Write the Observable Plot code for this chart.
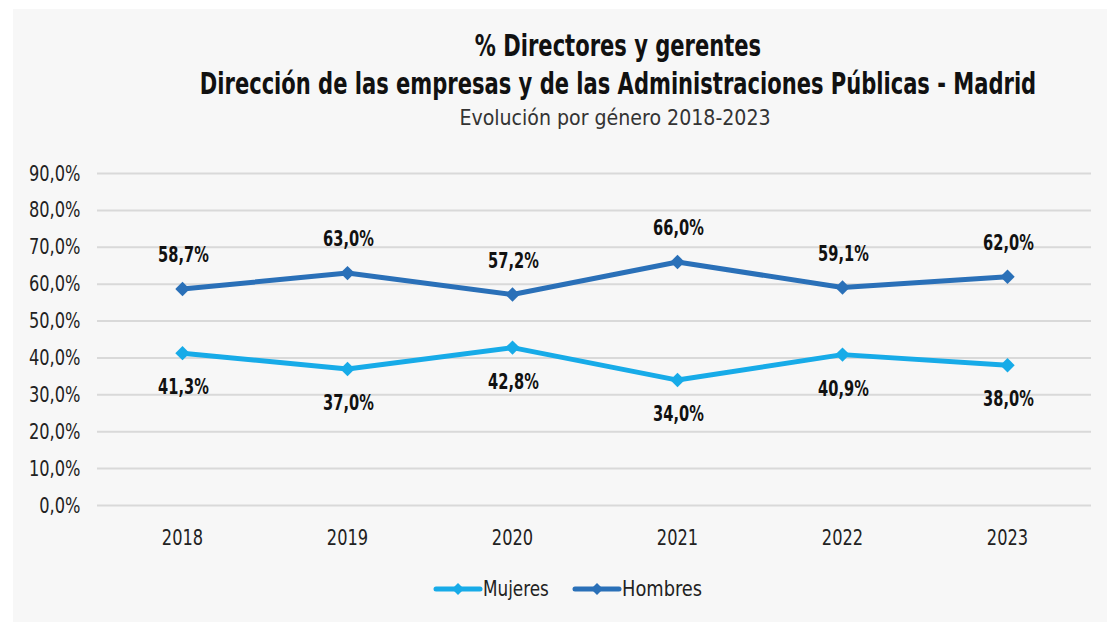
<!DOCTYPE html>
<html>
<head>
<meta charset="utf-8">
<script src="https://cdn.jsdelivr.net/npm/d3@7"></script>
<script src="https://cdn.jsdelivr.net/npm/@observablehq/plot@0.6"></script>
<style>
  html, body { margin: 0; padding: 0; background: #ffffff; width: 1107px; height: 622px; overflow: hidden; }
  body { position: relative; font-family: "DejaVu Sans Condensed", "DejaVu Sans", sans-serif; }
  #panel { position: absolute; left: 13px; top: 9px; right: 0; bottom: 0; background: #f7f7f7; }
  .t { position: absolute; left: 618px; white-space: nowrap; color: #111; transform-origin: 50% 50%; }
  #t1 { top: 28px; font-size: 30px; font-weight: bold; line-height: 36px; transform: translateX(-50%) scaleX(0.78); }
  #t2 { top: 66px; font-size: 30px; font-weight: bold; line-height: 36px; transform: translateX(-50%) scaleX(0.78); }
  #sub { top: 104px; font-size: 22px; line-height: 28px; color: #333; left: 615px; transform: translateX(-50%) scaleX(0.96); }
  #chart { position: absolute; left: 0; top: 140px; }
  #legend { position: absolute; top: 576px; left: 433px; display: flex; align-items: center; font-size: 22px; color: #222; }
  #legend .item { display: flex; align-items: center; margin-right: 23px; }
  #legend .lab { display: inline-block; transform-origin: 0 50%; }
  #legend svg { display: block; }
</style>
</head>
<body>
<div id="panel"></div>
<div class="t" id="t1">% Directores y gerentes</div>
<div class="t" id="t2">Dirección de las empresas y de las Administraciones Públicas - Madrid</div>
<div class="t" id="sub">Evolución por género 2018-2023</div>
<div id="chart"></div>
<div id="legend"></div>
<script>
const years = ["2018", "2019", "2020", "2021", "2022", "2023"];
const mujeres = [41.3, 37.0, 42.8, 34.0, 40.9, 38.0];
const hombres = [58.7, 63.0, 57.2, 66.0, 59.1, 62.0];
const seriesNames = ["Mujeres", "Hombres"];
const seriesColors = ["#17abe8", "#2a70b8"];
const yTicks = [0, 10, 20, 30, 40, 50, 60, 70, 80, 90];

const fmt = v => v.toFixed(1).replace(".", ",") + "%";
const rows = [];
years.forEach((y, i) => {
  rows.push({year: y, value: mujeres[i], serie: "Mujeres"});
  rows.push({year: y, value: hombres[i], serie: "Hombres"});
});
const colorOf = s => seriesColors[seriesNames.indexOf(s)];
const font = "DejaVu Sans Condensed, DejaVu Sans, sans-serif";

const plot = Plot.plot({
  width: 1107,
  height: 415,
  marginTop: 33,
  marginBottom: 50,
  marginLeft: 97,
  marginRight: 16,
  style: {background: "transparent", fontFamily: font, fontSize: "22px", color: "#222"},
  x: {type: "point", domain: years, padding: 0.5, label: null},
  y: {domain: [0, 90], ticks: yTicks, label: null},
  marks: [
    Plot.ruleY(yTicks, {stroke: "#d9d9d9", strokeWidth: 2}),
    Plot.axisY(yTicks, {tickSize: 0, tickPadding: 17, tickFormat: fmt, fontSize: 22, fill: "#222", className: "sq82"}),
    Plot.axisX(years, {tickSize: 0, tickPadding: 24, fontSize: 22, fill: "#222", className: "sq82"}),
    Plot.line(rows, {x: "year", y: "value", z: "serie", stroke: d => colorOf(d.serie), strokeWidth: 5, strokeLinejoin: "miter"}),
    Plot.dot(rows, {x: "year", y: "value", symbol: "diamond2", r: 6.5, fill: d => colorOf(d.serie), stroke: "none"}),
    Plot.text(rows.filter(d => d.serie === "Hombres"), {x: "year", y: "value", text: d => fmt(d.value), dy: -34, dx: 1, fontSize: 22, fontWeight: "bold", fill: "#111", className: "sq74"}),
    Plot.text(rows.filter(d => d.serie === "Mujeres"), {x: "year", y: "value", text: d => fmt(d.value), dy: 34, dx: 1, fontSize: 22, fontWeight: "bold", fill: "#111", className: "sq74"})
  ]
});
document.getElementById("chart").appendChild(plot);

// horizontally condense text glyphs to imitate the narrow typeface
function condense(selector, k) {
  plot.querySelectorAll(selector).forEach(t => {
    const tr = t.getAttribute("transform");
    if (tr) t.setAttribute("transform", tr + ` scale(${k},1)`);
    else {
      const len = t.getComputedTextLength();
      t.setAttribute("textLength", len * k);
      t.setAttribute("lengthAdjust", "spacingAndGlyphs");
    }
  });
}
condense(".sq82 text", 0.82);
condense(".sq74 text", 0.74);

const legend = document.getElementById("legend");
const legendScale = [0.85, 0.9];
seriesNames.forEach((name, i) => {
  const item = document.createElement("div");
  item.className = "item";
  const ns = "http://www.w3.org/2000/svg";
  const svg = document.createElementNS(ns, "svg");
  svg.setAttribute("width", 50);
  svg.setAttribute("height", 20);
  const line = document.createElementNS(ns, "line");
  line.setAttribute("x1", 3); line.setAttribute("x2", 47);
  line.setAttribute("y1", 10); line.setAttribute("y2", 10);
  line.setAttribute("stroke", seriesColors[i]);
  line.setAttribute("stroke-width", 5);
  line.setAttribute("stroke-linecap", "round");
  svg.appendChild(line);
  const dia = document.createElementNS(ns, "path");
  dia.setAttribute("d", "M25,4 L31,10 L25,16 L19,10 Z");
  dia.setAttribute("fill", seriesColors[i]);
  svg.appendChild(dia);
  item.appendChild(svg);
  const label = document.createElement("span");
  label.className = "lab";
  label.textContent = name;
  label.style.transform = `scaleX(${legendScale[i]})`;
  item.appendChild(label);
  legend.appendChild(item);
  // compensate layout width for the scaled label
  requestAnimationFrame(() => {
    const w = label.getBoundingClientRect().width;
    label.style.marginRight = (w - label.offsetWidth) + "px";
  });
});
</script>
</body>
</html>
